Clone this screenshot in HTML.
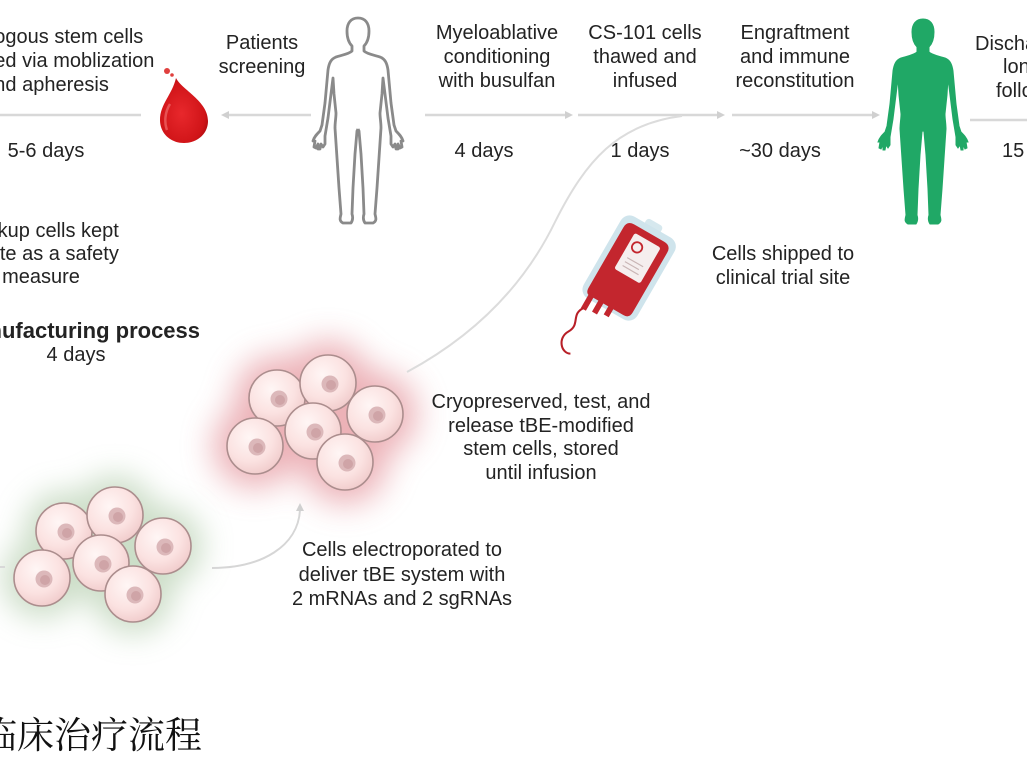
<!DOCTYPE html>
<html><head><meta charset="utf-8">
<style>
html,body{margin:0;padding:0;background:#fff;}
#c{position:relative;width:1027px;height:770px;overflow:hidden;background:#fff;}
svg{position:absolute;left:0;top:0;}
.t{position:absolute;width:300px;text-align:center;font-family:"Liberation Sans",Arial,sans-serif;font-size:20px;line-height:24px;color:#232323;white-space:nowrap;}
.l{position:absolute;font-family:"Liberation Sans",Arial,sans-serif;font-size:20px;line-height:24px;color:#232323;white-space:nowrap;}
.zh{position:absolute;left:-20px;top:714px;font-family:"Noto Serif CJK SC","Noto Sans CJK SC",serif;font-size:37px;line-height:37px;color:#111;white-space:nowrap;}
</style></head>
<body><div id="c">
<svg width="1027" height="770" viewBox="0 0 1027 770">
<defs>
  <radialGradient id="cell" cx="40%" cy="35%" r="70%">
    <stop offset="0" stop-color="#fff6f5"/>
    <stop offset="0.6" stop-color="#fbe2e1"/>
    <stop offset="1" stop-color="#f0caca"/>
  </radialGradient>
  <radialGradient id="drop" cx="45%" cy="55%" r="60%">
    <stop offset="0" stop-color="#e8282c"/>
    <stop offset="0.8" stop-color="#d01418"/>
    <stop offset="1" stop-color="#ac0c10"/>
  </radialGradient>
  <filter id="blurR" x="-60%" y="-60%" width="220%" height="220%"><feGaussianBlur stdDeviation="16"/></filter>
  <filter id="blurG" x="-60%" y="-60%" width="220%" height="220%"><feGaussianBlur stdDeviation="15"/></filter>
  <g id="c1">
    <circle r="28" fill="url(#cell)" stroke="#ab8d8d" stroke-width="1.6"/>
    <circle cx="2" cy="1" r="8.5" fill="#dcb8ba"/>
    <circle cx="3" cy="2" r="5" fill="#cfa4a7"/>
  </g>
  <path id="half" d="M0,0 C7,0 11,5 11,13 C11,20 9,25 6,28 L6,33 C9,36 16,37 22,39 C27,41 29,45 30,52 L33,85 L36,107 L38,113 C41,116 44,119 45,123 L43,123 L44,129 L42,130 L40,126 L40,131 L38,131 L37,126 L35,129 L33,126 L33,118 L30,100 L27,76 L25,60 L24,76 L22,95 C22,100 23,104 23,110 L21,140 L19,170 L17,196 C18,200 19,203 15,205 L7,205 C5,202 5,199 6,196 L5,170 L3,136 L1,113 L0,111"/>
</defs>

<!-- glows -->
<g filter="url(#blurG)" fill="#bcd3b6" opacity="0.75">
  <circle cx="64" cy="531" r="40"/><circle cx="115" cy="515" r="40"/><circle cx="163" cy="546" r="40"/>
  <circle cx="101" cy="563" r="40"/><circle cx="42" cy="578" r="40"/><circle cx="133" cy="594" r="40"/>
</g>
<g filter="url(#blurR)" fill="#e07f88" opacity="0.6">
  <circle cx="277" cy="398" r="42"/><circle cx="328" cy="383" r="42"/><circle cx="375" cy="414" r="42"/>
  <circle cx="313" cy="431" r="42"/><circle cx="255" cy="446" r="42"/><circle cx="345" cy="462" r="42"/>
</g>

<!-- timeline lines -->
<g stroke="#d8d8d8" stroke-width="2.5" fill="none">
  <path d="M0,115 H141"/>
  <path d="M224,115 H311"/>
  <path d="M425,115 H568"/>
  <path d="M578,115 H720"/>
  <path d="M732,115 H874"/>
  <path d="M970,120 H1027"/>
  <path d="M407,372 C470,338 522,290 555,222 C586,160 618,124 682,116" stroke="#dcdcdc" stroke-width="2"/>
  <path d="M212,568 C262,568 298,546 300,510" stroke="#d6d6d6" stroke-width="2"/>
  <path d="M0,567 H5" stroke-width="2"/>
</g>
<g fill="#d0d0d0">
  <path d="M221,115 L229,111 L229,119 Z"/>
  <path d="M573,115 L565,111 L565,119 Z"/>
  <path d="M725,115 L717,111 L717,119 Z"/>
  <path d="M880,115 L872,111 L872,119 Z"/>
  <path d="M300,503 L296,511 L304,511 Z"/>
</g>

<!-- blood drop -->
<path d="M176,78 C182,90 208,101 208,121 C208,134 197,143 184,143 C170,143 160,133 160,120 C160,104 172,95 176,78 Z" fill="url(#drop)"/>
<path d="M170,104 C165,112 164,122 167,130" stroke="#f06a6a" stroke-width="2.5" fill="none" opacity="0.7"/>
<circle cx="167" cy="71" r="3" fill="#e0403e"/>
<circle cx="172" cy="75" r="1.8" fill="#e0403e"/>

<!-- gray outline figure -->
<g transform="translate(358,18)" fill="none" stroke="#8a8a8a" stroke-width="2.8" stroke-linejoin="round">
  <use href="#half"/>
  <use href="#half" transform="scale(-1,1)"/>
</g>

<!-- green figure -->
<g transform="translate(923,19)" fill="#20a866" stroke="#20a866" stroke-width="1">
  <use href="#half"/>
  <use href="#half" transform="scale(-1,1)"/>
  <rect x="-2" y="2" width="4" height="108"/>
</g>

<!-- blood bag -->
<g transform="translate(628,270) rotate(30) scale(1.15)">
  <rect x="-8" y="-48" width="16" height="8" rx="3" fill="#d6e8ee"/>
  <rect x="-27" y="-43" width="54" height="82" rx="9" fill="#cfe4ec"/>
  <path d="M-22,-30 Q-22,-37 -15,-37 L15,-37 Q22,-37 22,-30 L22,30 Q22,36 16,36 L6,36 L6,44 L1,44 L1,36 L-4,36 L-4,47 L-9,47 L-9,36 L-14,36 L-14,49 L-19,49 L-19,36 Q-22,35 -22,30 Z" fill="#c3262e"/>
  <rect x="-11" y="-31" width="26" height="36" rx="2" fill="#f5eeee"/>
  <circle cx="-3" cy="-21" r="4.5" fill="none" stroke="#c3262e" stroke-width="1.6"/>
  <path d="M-6,-9 H10 M-6,-5 H8 M-6,-1 H10" stroke="#c9b5b5" stroke-width="1"/>
  <path d="M-17,48 C-24,58 -12,62 -18,72 C-24,82 -14,92 -7,88" stroke="#b81f27" stroke-width="1.8" fill="none"/>
</g>

<!-- green cells -->
<use href="#c1" x="64" y="531"/>
<use href="#c1" x="115" y="515"/>
<use href="#c1" x="163" y="546"/>
<use href="#c1" x="101" y="563"/>
<use href="#c1" x="42" y="578"/>
<use href="#c1" x="133" y="594"/>

<!-- red cells -->
<use href="#c1" x="277" y="398"/>
<use href="#c1" x="328" y="383"/>
<use href="#c1" x="375" y="414"/>
<use href="#c1" x="313" y="431"/>
<use href="#c1" x="255" y="446"/>
<use href="#c1" x="345" y="462"/>
</svg>

<!-- top labels -->
<div class="t" style="left:-104px;top:25px;">Autologous stem cells<br>collected via moblization<br>and apheresis</div>
<div class="t" style="left:112px;top:31px;">Patients<br>screening</div>
<div class="t" style="left:347px;top:21px;">Myeloablative<br>conditioning<br>with busulfan</div>
<div class="t" style="left:495px;top:21px;">CS-101 cells<br>thawed and<br>infused</div>
<div class="t" style="left:645px;top:21px;">Engraftment<br>and immune<br>reconstitution</div>
<div class="l" style="left:975px;top:32px;">Discharge and</div>
<div class="l" style="left:1003px;top:55px;">long-term</div>
<div class="l" style="left:996px;top:79px;">follow-up</div>

<!-- days -->
<div class="t" style="left:-104px;top:139px;">5-6 days</div>
<div class="t" style="left:334px;top:139px;">4 days</div>
<div class="t" style="left:490px;top:139px;">1 days</div>
<div class="t" style="left:630px;top:139px;">~30 days</div>
<div class="l" style="left:1002px;top:139px;">15 years</div>

<!-- left middle -->
<div class="t" style="left:-109px;top:220px;line-height:23px;">Backup cells kept<br>onsite as a safety<br>measure</div>
<div class="t" style="left:-71px;top:319px;font-size:22px;font-weight:bold;">Manufacturing process</div>
<div class="t" style="left:-74px;top:343px;">4 days</div>

<!-- middle labels -->
<div class="t" style="left:633px;top:242px;">Cells shipped to<br>clinical trial site</div>
<div class="t" style="left:391px;top:391px;line-height:23.7px;">Cryopreserved, test, and<br>release tBE-modified<br>stem cells, stored<br>until infusion</div>
<div class="t" style="left:252px;top:538px;line-height:24.5px;">Cells electroporated to<br>deliver tBE system with<br>2 mRNAs and 2 sgRNAs</div>

<div class="zh">临床治疗流程</div>
</div></body></html>
